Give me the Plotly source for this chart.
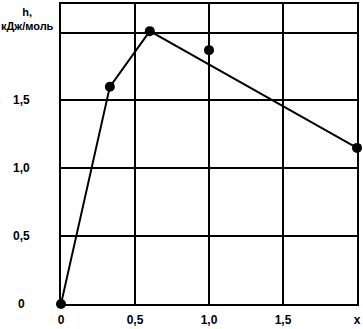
import plotly.graph_objects as go

# data
line_x = [0.0, 0.33, 0.60, 2.0]
line_h = [0.0, 1.60, 2.01, 1.15]
point_x = [0.0, 0.33, 0.60, 1.0, 2.0]
point_h = [0.0, 1.60, 2.01, 1.87, 1.15]

x_tick_vals = [0, 0.5, 1.0, 1.5, 2.0]
x_tick_text = ["0", "0,5", "1,0", "1,5", "x"]
y_tick_vals = [0, 0.5, 1.0, 1.5]
y_tick_text = ["0", "0,5", "1,0", "1,5"]
y_title = "h,<br>кДж/моль"

FONT = "Liberation Sans, Arial, sans-serif"

fig = go.Figure()
fig.add_trace(go.Scatter(x=line_x, y=line_h, mode="lines",
                         line=dict(color="black", width=2),
                         cliponaxis=False, showlegend=False))
fig.add_trace(go.Scatter(x=point_x, y=point_h, mode="markers",
                         marker=dict(color="black", size=10),
                         cliponaxis=False, showlegend=False))

annotations = []
for v, t in zip(y_tick_vals, y_tick_text):
    annotations.append(dict(x=-0.132, y=v, xref="paper", yref="y", text=t,
                            showarrow=False, xanchor="center", yanchor="middle",
                            font=dict(family=FONT, size=12, color="black", weight="bold")))
annotations.append(dict(x=-0.21, y=1.0, xref="paper", yref="paper", text=y_title,
                        showarrow=False, xanchor="left", yanchor="top", align="center",
                        font=dict(family=FONT, size=11, color="black", weight="bold")))
fig.update_layout(annotations=annotations)

fig.update_xaxes(range=[0, 2.0], tickvals=x_tick_vals, ticktext=x_tick_text,
                 showgrid=True, gridcolor="black", gridwidth=2,
                 showline=True, linecolor="black", linewidth=2, mirror=True,
                 zeroline=False, ticks="", ticklabelstandoff=4,
                 tickfont=dict(family=FONT, size=12, color="black", weight="bold"))
fig.update_yaxes(range=[0, 2.21], tickvals=[0, 0.5, 1.0, 1.5, 2.0],
                 showticklabels=False,
                 showgrid=True, gridcolor="black", gridwidth=2,
                 showline=True, linecolor="black", linewidth=2, mirror=True,
                 zeroline=False, ticks="")

fig.update_layout(width=363, height=329,
                  margin=dict(l=61, r=6, t=2, b=24),
                  paper_bgcolor="white", plot_bgcolor="white",
                  font=dict(family=FONT, color="black"))

fig.write_html("out.html", config={"displayModeBar": False},
               post_script="document.body.style.margin='0px';document.body.style.overflow='hidden';")
